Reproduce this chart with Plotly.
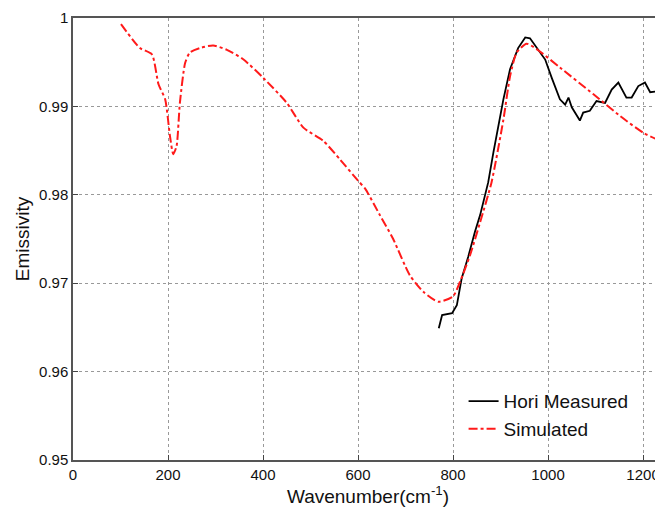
import plotly.graph_objects as go

sim_x = [101, 141, 166, 180, 194, 204, 211, 218, 225, 236, 246, 267, 295, 324, 359, 401, 450, 485, 527, 562, 600,
         615, 646, 674, 709, 738, 769, 800, 815, 836, 857, 881, 906, 920, 934, 955, 983, 1025, 1095, 1152, 1201, 1245]
sim_y = [0.9993, 0.9966, 0.9959, 0.9925, 0.9908, 0.9867, 0.9846, 0.9855, 0.9904, 0.9949, 0.9961, 0.9966, 0.9969,
         0.9964, 0.9953, 0.9932, 0.9904, 0.9876, 0.9861, 0.9840, 0.9816,
         0.9807, 0.9777, 0.9750, 0.9709, 0.9690, 0.9679, 0.9685, 0.9702, 0.9732, 0.9769, 0.9814, 0.9885, 0.9934,
         0.9961, 0.9971, 0.9962, 0.9944, 0.9914, 0.9889, 0.9870, 0.9859]

meas_x = [770, 777, 798, 808, 818, 832, 846, 857, 874, 885, 906, 920, 937, 952, 962, 983, 994, 1008, 1025, 1036,
          1043, 1050, 1067, 1074, 1088, 1102, 1120, 1134, 1148, 1165, 1176, 1190, 1204, 1215, 1229, 1236, 1245]
meas_y = [0.9649, 0.9664, 0.9666, 0.9675, 0.9705, 0.9730, 0.9758, 0.9777, 0.9814, 0.9848, 0.9908, 0.9942, 0.9966,
          0.9978, 0.9977, 0.9962, 0.9953, 0.9932, 0.9908, 0.9902, 0.9910, 0.9899, 0.9884, 0.9893, 0.9895, 0.9906,
          0.9904, 0.9919, 0.9927, 0.9910, 0.9910, 0.9923, 0.9927, 0.9916, 0.9917, 0.9914, 0.9925]

x_ticks = [0, 200, 400, 600, 800, 1000, 1200]
y_ticks = [0.95, 0.96, 0.97, 0.98, 0.99, 1.0]
y_tick_text = ["0.95", "0.96", "0.97", "0.98", "0.99", "1"]

fig = go.Figure()
fig.add_trace(go.Scatter(x=meas_x, y=meas_y, mode="lines", name="Hori Measured",
                         line=dict(color="black", width=1.8)))
fig.add_trace(go.Scatter(x=sim_x, y=sim_y, mode="lines", name="Simulated",
                         line=dict(color="#ff1a1a", width=2, dash="dashdot", shape="spline", smoothing=0.6)))

fam = "Liberation Sans, Arial, sans-serif"
font = dict(family=fam, size=15, color="#111")
title_font = dict(family=fam, size=19, color="#111")
fig.update_layout(
    width=655, height=507,
    margin=dict(l=65, r=0, t=10, b=55),
    paper_bgcolor="white", plot_bgcolor="white",
    font=font,
    showlegend=True,
    legend=dict(x=0.662, y=0.176, xanchor="left", yanchor="top", bgcolor="rgba(255,255,255,0)",
                font=dict(family=fam, size=19, color="#111"),
                tracegroupgap=0),
)
fig.update_xaxes(range=[0, 1242], tickvals=x_ticks, ticks="inside", ticklen=5, tickcolor="#444",
                 showgrid=True, gridcolor="#999", griddash="dot", gridwidth=1,
                 showline=True, linecolor="#555", linewidth=1.5, mirror=True, zeroline=False,
                 automargin=False, ticklabeloverflow="allow",
                 title=dict(text="Wavenumber(cm<sup>-1</sup>)", standoff=0, font=title_font),
                 tickfont=font)
fig.update_yaxes(range=[0.95, 1.0], tickvals=y_ticks, ticktext=y_tick_text, ticks="inside", ticklen=5,
                 tickcolor="#444",
                 showgrid=True, gridcolor="#999", griddash="dot", gridwidth=1,
                 showline=True, linecolor="#555", linewidth=1.5, mirror=True, zeroline=False,
                 automargin=False, ticklabeloverflow="allow",
                 title=dict(text="Emissivity", standoff=4, font=title_font),
                 tickfont=font)

fig.write_html("out.html")
